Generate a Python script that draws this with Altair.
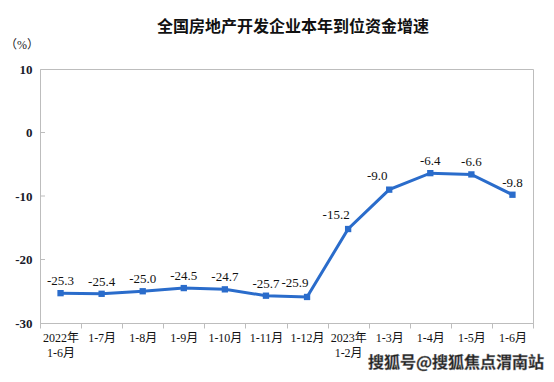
import altair as alt
import pandas as pd

title = "全国房地产开发企业本年到位资金增速"
unit = "（%）"
periods = ["2022年\n1-6月", "1-7月", "1-8月", "1-9月", "1-10月", "1-11月", "1-12月",
           "2023年\n1-2月", "1-3月", "1-4月", "1-5月", "1-6月"]
growth = [-25.3, -25.4, -25.0, -24.5, -24.7, -25.7, -25.9, -15.2, -9.0, -6.4, -6.6, -9.8]
y_ticks = [10, 0, -10, -20, -30]
watermark = "搜狐号@搜狐焦点渭南站"

df = pd.DataFrame({"period": periods, "growth": growth, "idx": list(range(len(periods)))})
df["label"] = [f"{v:.1f}" for v in growth]

serif = "Liberation Serif, Noto Sans CJK SC"
blue = "#2a6ccb"
gray = "#bdbdbd"

x_enc = alt.X("period:N", sort=periods,
              scale=alt.Scale(type="band", paddingInner=0, paddingOuter=0),
              axis=alt.Axis(title=None, labelAngle=0, labelFont=serif, labelFontSize=12,
                            labelColor="#111", domainColor=gray, tickColor=gray, tickSize=5,
                            tickBand="extent", labelPadding=4, labelLineHeight=15,
                            labelExpr="split(datum.label, '\\n')", labelBaseline="top"))
y_enc = alt.Y("growth:Q", scale=alt.Scale(domain=[-30, 10], nice=False),
              axis=alt.Axis(values=y_ticks, title=None,
                            labelFont=serif, labelFontSize=13, labelFontWeight="bold",
                            labelExpr="'' + datum.value",
                            labelColor="#1a1a2a", domainColor=gray, ticks=False, grid=False,
                            labelPadding=8))

base = alt.Chart(df)
line = base.mark_line(color=blue, strokeWidth=3).encode(x=x_enc, y=y_enc)
pts = base.mark_square(color=blue, size=40, opacity=1).encode(x=x_enc, y=y_enc)

lab_main = base.transform_filter("datum.idx != 6 && datum.idx != 7 && datum.idx != 8").mark_text(
    font=serif, fontSize=13, color="#111", baseline="middle", dy=-12
).encode(x=x_enc, y=y_enc, text="label:N")
lab_shift = base.transform_filter("datum.idx == 6 || datum.idx == 7 || datum.idx == 8").mark_text(
    font=serif, fontSize=13, color="#111", baseline="middle", dy=-14, dx=-12
).encode(x=x_enc, y=y_enc, text="label:N")

tick_df = pd.DataFrame({"v": [0, -10, -20]})
yticks = alt.Chart(tick_df).mark_rule(color=gray).encode(
    y=alt.Y("v:Q", scale=alt.Scale(domain=[-30, 10], nice=False)),
    x=alt.value(0), x2=alt.value(5))

title_mark = alt.Chart(pd.DataFrame({"t": [title]})).mark_text(
    font="Noto Sans CJK SC", fontSize=16, fontWeight="bold", color="#111", baseline="middle"
).encode(text="t:N", x=alt.value(253), y=alt.value(-42))

unit_mark = alt.Chart(pd.DataFrame({"t": [unit]})).mark_text(
    font=serif, fontSize=12, color="#222", baseline="middle"
).encode(text="t:N", x=alt.value(-18), y=alt.value(-24))

wm = alt.Chart(pd.DataFrame({"t": [watermark]})).mark_text(
    font="Noto Sans CJK SC", fontSize=16, fontWeight="bold", color="#222",
    stroke="#888", strokeWidth=0.4, baseline="middle"
).encode(text="t:N", x=alt.value(416), y=alt.value(294))

chart = alt.layer(line, pts, lab_main, lab_shift, yticks, title_mark, unit_mark, wm).properties(
    width=493, height=254,
    autosize=alt.AutoSizeParams(type="none"),
    padding={"left": 32, "top": 61, "right": 13, "bottom": 51},
).configure_view(stroke=gray, strokeWidth=1)

chart.save("out.html", embed_options={"renderer": "svg", "actions": False})
